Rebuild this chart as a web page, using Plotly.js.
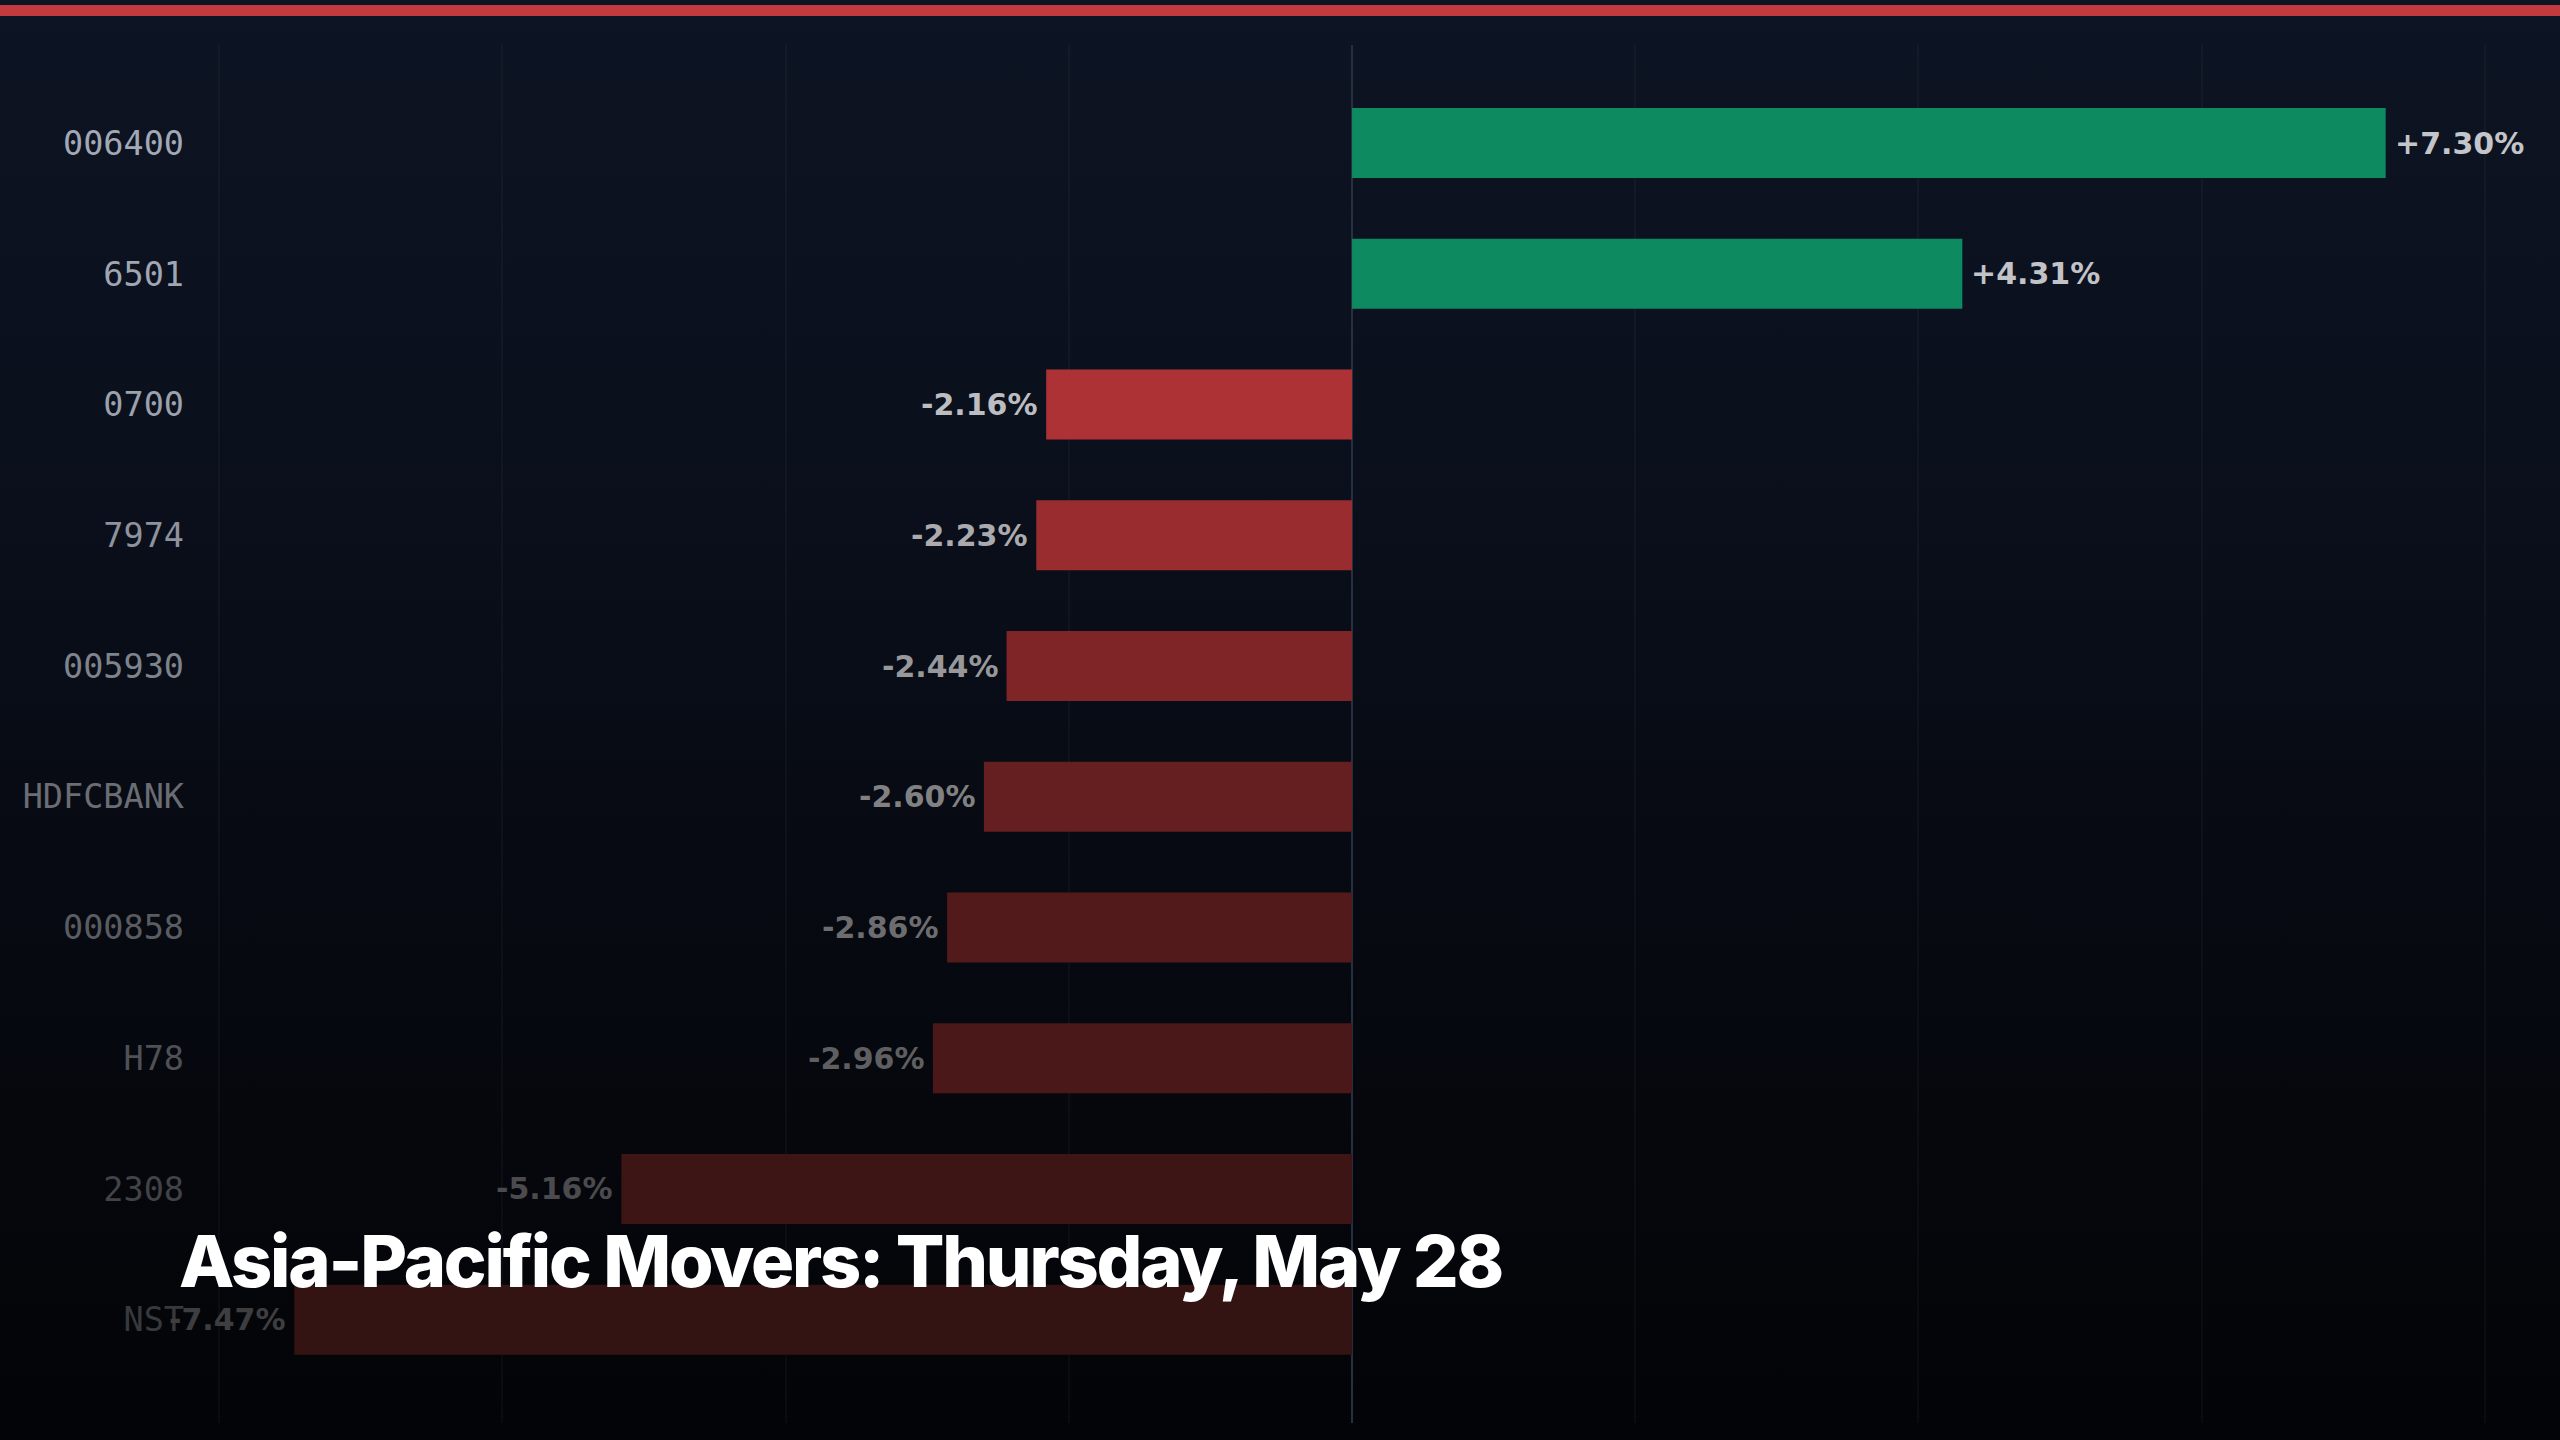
<!DOCTYPE html>
<html>
<head>
<meta charset="utf-8">
<script src="https://cdn.plot.ly/plotly-3.0.1.min.js"></script>
<style>
  html, body { margin: 0; padding: 0; width: 2560px; height: 1440px; overflow: hidden; }
  body { background: linear-gradient(to bottom, #0d1423 0%, #0a0f1b 35%, #070a12 60%, #030407 100%); }
  #chart { width: 2560px; height: 1440px; }
  text.annotation-text[data-unformatted^="Asia"] { letter-spacing: -2.2px; }
</style>
</head>
<body>
<div id="chart"></div>
<script>
// ---- data ----
const tickers = ['006400', '6501', '0700', '7974', '005930', 'HDFCBANK', '000858', 'H78', '2308', 'NST'];
const changes = [7.30, 4.31, -2.16, -2.23, -2.44, -2.60, -2.86, -2.96, -5.16, -7.47];
const titleText = 'Asia-Pacific Movers: Thursday, May 28';

// ---- styles (per row, fading towards the bottom) ----
const barColors = ['#0e8a60', '#0e8a60', '#ad3236', '#982c2f', '#7f2427', '#661f20', '#531a1b', '#4a1819', '#3e1515', '#341313'];
const tickColors = ['#a2a8b4', '#a0a6b2', '#9ca1ac', '#8e929c', '#7f838b', '#6a6d73', '#5a5c61', '#4f5155', '#414346', '#37393c'];
const valueColors = ['#c4c5c9', '#c2c3c7', '#bcbdc0', '#ababae', '#98989b', '#818183', '#6d6d6f', '#5f5f61', '#4b4b4d', '#3e3e40'];

const fmt = v => (v > 0 ? '+' : '') + v.toFixed(2) + '%';

const trace = {
  type: 'bar',
  orientation: 'h',
  x: changes,
  y: tickers,
  marker: { color: barColors, line: { width: 0 } },
  hoverinfo: 'skip'
};

// category axis: annotation y given as the category index
const valueAnnotations = changes.map((v, i) => ({
  x: v,
  y: i,
  xref: 'x',
  yref: 'y',
  text: fmt(v),
  showarrow: false,
  xanchor: v >= 0 ? 'left' : 'right',
  yanchor: 'middle',
  xshift: v >= 0 ? 7 : -6,
  font: { family: 'DejaVu Sans', size: 30, color: valueColors[i], weight: 700 }
}));

const layout = {
  width: 2560,
  height: 1440,
  paper_bgcolor: 'rgba(0,0,0,0)',
  plot_bgcolor: 'rgba(0,0,0,0)',
  margin: { l: 200, r: 0, t: 45, b: 17, pad: 0 },
  showlegend: false,
  bargap: 0.465,
  xaxis: {
    range: [-8.136, 8.531],
    dtick: 2,
    tick0: 0,
    showgrid: true,
    gridcolor: 'rgba(255,255,255,0.03)',
    gridwidth: 2,
    zeroline: true,
    zerolinecolor: '#273040',
    zerolinewidth: 2,
    showticklabels: false,
    ticks: '',
    showline: false,
    fixedrange: true
  },
  yaxis: {
    type: 'category',
    range: [9.79, -0.75],
    tickvals: tickers,
    ticktext: tickers.map((t, i) => '<span style="color:' + tickColors[i] + '">' + t + '</span>'),
    tickfont: { family: 'DejaVu Sans Mono', size: 33.5, color: '#a0a6b2' },
    ticks: '',
    ticklabelstandoff: 15,
    showgrid: false,
    zeroline: false,
    showline: false,
    fixedrange: true
  },
  shapes: [{
    type: 'rect',
    xref: 'paper', yref: 'paper',
    x0: -0.1, x1: 1.01,
    ysizemode: 'pixel', yanchor: 1,
    y0: 29, y1: 40,
    fillcolor: '#c23a3b',
    line: { width: 0 },
    layer: 'above'
  }],
  annotations: valueAnnotations.concat([{
    xref: 'paper', yref: 'paper',
    x: (177 - 200) / 2360,
    y: (1423 - 1260) / 1378,
    xanchor: 'left', yanchor: 'middle',
    align: 'left',
    text: titleText,
    showarrow: false,
    font: { family: 'Inter', size: 72, color: '#ffffff', weight: 800 }
  }])
};

Plotly.newPlot('chart', [trace], layout, { displayModeBar: false, staticPlot: true });
</script>
</body>
</html>
